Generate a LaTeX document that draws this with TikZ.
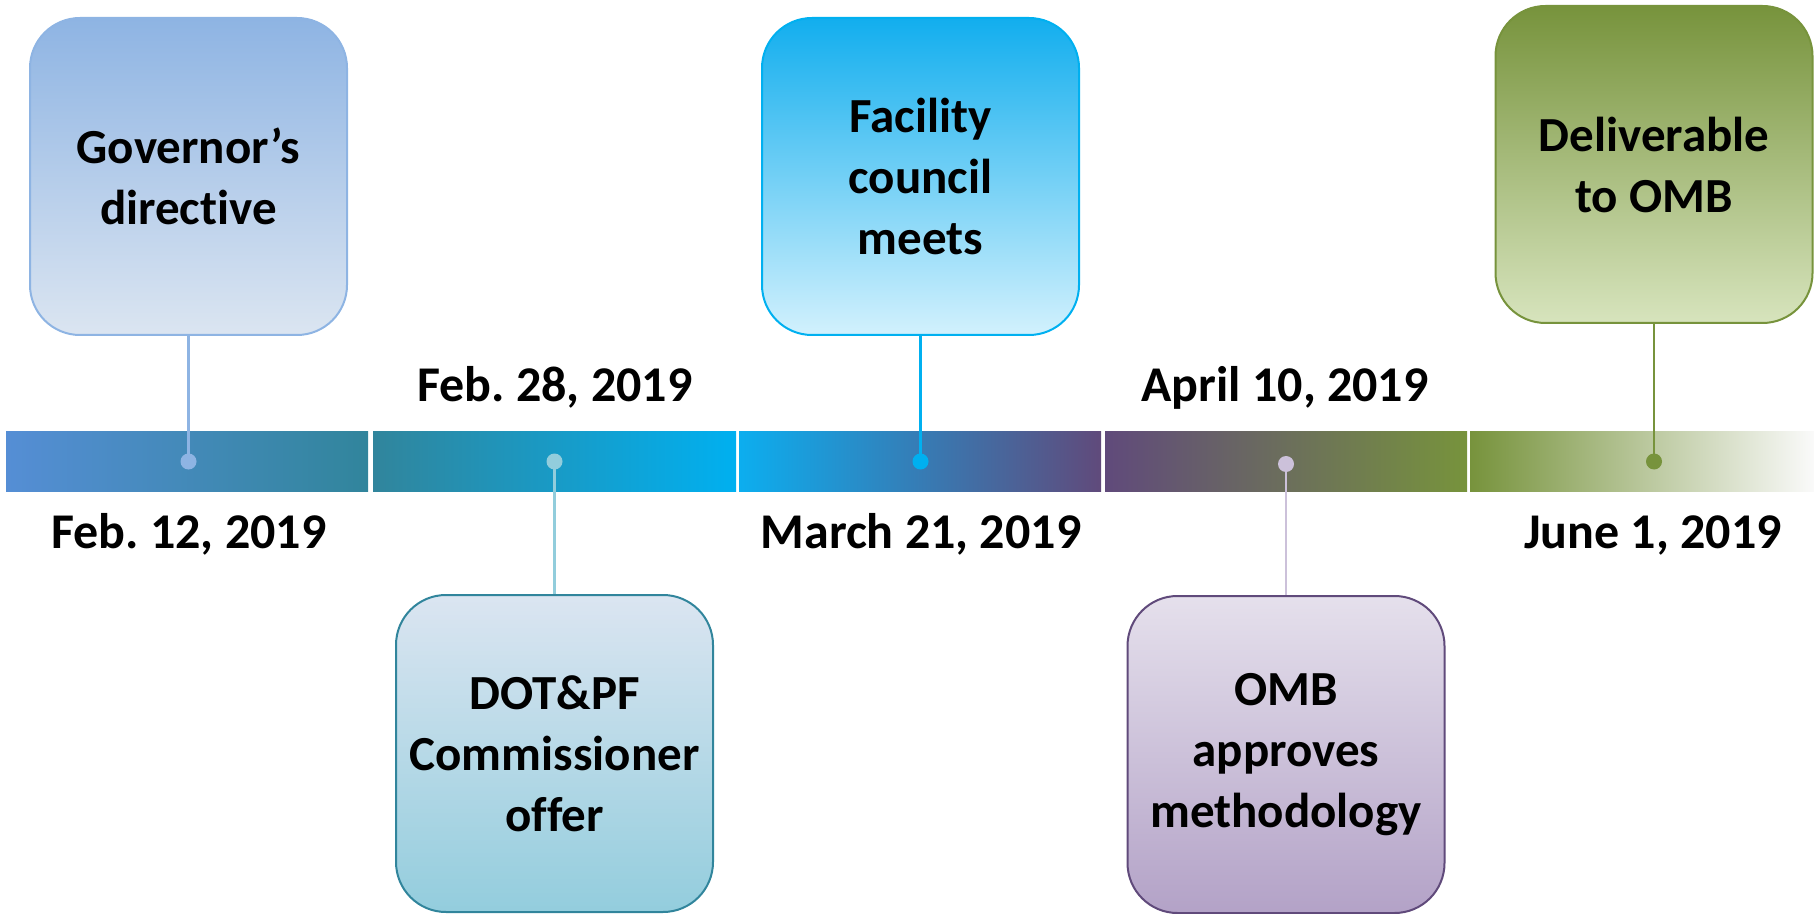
\documentclass[tikz,border=0pt]{standalone}
\usepackage{fontspec}
\setmainfont{Carlito}[Ligatures=NoCommon]
\frenchspacing
\definecolor{cBlue}{HTML}{558ED5}
\definecolor{cTeal}{HTML}{31859C}
\definecolor{cCyan}{HTML}{00B0F0}
\definecolor{cPurple}{HTML}{604A7B}
\definecolor{cOlive}{HTML}{77933C}
\definecolor{cSky}{HTML}{8EB4E3}
\definecolor{cAqua}{HTML}{92CDDC}
\definecolor{cLav}{HTML}{CCC1DA}
% box fills
\definecolor{fPale}{HTML}{DBE5F1}
\definecolor{fAquaDeep}{HTML}{93CDDD}
\definecolor{fCyanTop}{HTML}{12AEEE}
\definecolor{fCyanLow}{HTML}{D2F1FD}
\definecolor{fLavTop}{HTML}{E5E0EC}
\definecolor{fLavLow}{HTML}{B3A2C7}
\definecolor{fOliveLow}{HTML}{D7E4BD}
% bar tints
\definecolor{gCyan}{HTML}{0CAEEF}
\definecolor{gMidBlue}{HTML}{30A2DD}
\definecolor{gGrey}{HTML}{676169}
\definecolor{gFade}{HTML}{D3DAC8}
\definecolor{gEnd}{HTML}{FAFAFA}
\begin{document}
\begin{tikzpicture}[x=0.5pt,y=-0.5pt,
  eventbox/.style={draw, line width=1pt, rounded corners=25pt,
    minimum width=158.5pt, minimum height=158.5pt, inner sep=0pt,
    align=center, font=\bfseries\fontsize{24.5}{30.5}\selectfont},
  datelabel/.style={anchor=base, inner sep=0pt,
    font=\bfseries\fontsize{25}{30}\selectfont},
  stem/.style={line width=1.25pt},
  pin/.style={circle, inner sep=0pt, minimum size=8pt}]
\useasboundingbox (0,0) rectangle (1814,914);

% milestone boxes
\node[eventbox, draw=cSky, top color=cSky, bottom color=fPale] (b1)
  at (188.5,176.5) {Governor’s\\directive};
\node[eventbox, draw=cTeal, top color=fPale, bottom color=fAquaDeep] (b2)
  at (554.5,753.5) {DOT\&PF\\Commissioner\\offer};
\node[eventbox, draw=cCyan, top color=fCyanTop, bottom color=fCyanLow] (b3)
  at (920.5,176.5) {Facility\\council\\meets};
\node[eventbox, draw=cPurple, top color=fLavTop, bottom color=fLavLow] (b4)
  at (1286,754.5) {OMB\\approves\\methodology};
\node[eventbox, draw=cOlive, top color=cOlive, bottom color=fOliveLow] (b5)
  at (1654,164.5) {Deliverable\\to OMB};

% timeline bar segments
\shade[left color=cBlue, right color=cTeal] (6,431) rectangle (368,491);
\shade[left color=cTeal, right color=cCyan] (373,431) rectangle (736,491);
\shade[left color=gCyan, middle color=gMidBlue, right color=cPurple] (739,431) rectangle (1101,491);
\shade[left color=cPurple, middle color=gGrey, right color=cOlive] (1105,431) rectangle (1467,491);
\shade[left color=cOlive, middle color=gFade, right color=gEnd] (1470,431) rectangle (1814,491);

% pin positions on the bar
\coordinate (d1) at (188.5,461.5);
\coordinate (d2) at (554.5,461.5);
\coordinate (d3) at (920.5,461.5);
\coordinate (d4) at (1286,464);
\coordinate (d5) at (1654,461.5);

% stems from pins to boxes
\draw[stem, cSky] (d1) -- (d1 |- b1.south);
\draw[stem, cAqua] (d2) -- (d2 |- b2.north);
\draw[stem, cCyan] (d3) -- (d3 |- b3.south);
\draw[stem, cLav] (d4) -- (d4 |- b4.north);
\draw[stem, cOlive] (d5) -- (d5 |- b5.south);

% pins
\node[pin, fill=cSky] (p1) at (d1) {};
\node[pin, fill=cAqua] (p2) at (d2) {};
\node[pin, fill=cCyan] (p3) at (d3) {};
\node[pin, fill=cLav] (p4) at (d4) {};
\node[pin, fill=cOlive] (p5) at (d5) {};

% dates
\node[datelabel] (t1) at (189,548) {Feb. 12, 2019};
\node[datelabel] (t2) at (555,401) {Feb. 28, 2019};
\node[datelabel] (t3) at (921,548) {March 21, 2019};
\node[datelabel] (t4) at (1285,401) {April 10, 2019};
\node[datelabel] (t5) at (1653,548) {June 1, 2019};
\end{tikzpicture}
\end{document}
